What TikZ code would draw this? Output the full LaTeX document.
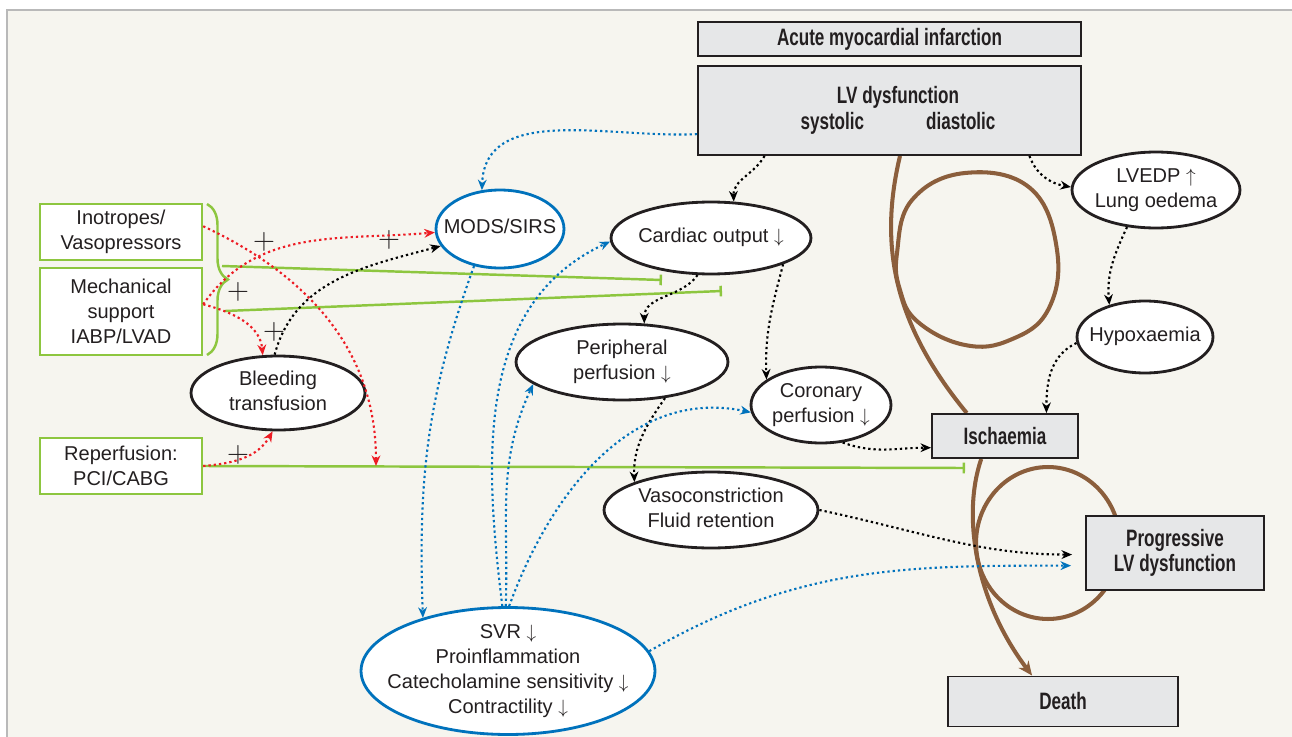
\documentclass[tikz,border=0pt]{standalone}
\usepackage{fontspec}
\setmainfont{Liberation Sans}
\newfontfamily\headfont[FakeStretch=0.72]{Liberation Sans}
\usetikzlibrary{arrows.meta,shapes.geometric,decorations.pathreplacing,backgrounds}
\definecolor{cream}{RGB}{246,245,239}
\definecolor{framegray}{RGB}{185,185,185}
\definecolor{boxgray}{RGB}{230,231,232}
\definecolor{ink}{RGB}{35,31,32}
\definecolor{rblue}{RGB}{0,114,188}
\definecolor{rred}{RGB}{237,28,36}
\definecolor{rgreen}{RGB}{141,198,63}
\definecolor{rbrown}{RGB}{139,94,60}
% text that takes no room, so the ellipse keeps its given size
\newcommand\zerobox[1]{\vbox to 0pt{\vss\hbox to 0pt{\hss\begin{tabular}{@{}c@{}}#1\end{tabular}\hss}\vss}}
\newcommand\arrdown{\ensuremath{\downarrow}}
\newcommand\arrup{\ensuremath{\uparrow}}

\begin{document}
\begin{tikzpicture}[x=0.02cm,y=-0.02cm,>={Stealth[length=6pt,width=5pt]},
	every node/.style={text=ink,font=\fontsize{11.4}{14.2}\selectfont,align=center},
	ell/.style={ellipse,draw=ink,fill=white,line width=1.6pt,inner sep=0pt},
	bell/.style={ell,draw=rblue},
	gbox/.style={rectangle,draw=rgreen,fill=white,line width=1.4pt,minimum width=3.24cm,inner sep=0pt},
	hbox/.style={rectangle,draw=ink,fill=boxgray,line width=1.1pt,inner sep=0pt,font=\fontsize{13.5}{14.6}\headfont\bfseries},
	plus/.style={font=\fontsize{18}{18}\selectfont,inner sep=0pt},
	dotarr/.style={->,line width=1.2pt,dash pattern=on 1.3pt off 1.7pt},
	inh/.style={-{Bar[width=6pt]},draw=rgreen,line width=1.4pt},
	loop/.style={draw=rbrown,line width=2.3pt}]

		\useasboundingbox (0,0) rectangle (1292,737);

		% boxes
		\node (ami) [hbox,minimum width=7.66cm,minimum height=0.68cm] at (889.5,39) {Acute myocardial infarction};
		\node (lv) [hbox,minimum width=7.66cm,minimum height=1.78cm,font=\fontsize{13.5}{15}\headfont\bfseries] at (889.5,110.5) {\hspace*{0.34cm}LV dysfunction\\\hspace*{0.34cm}systolic\hspace{1.24cm}diastolic};
		\node (isch) [hbox,minimum width=2.92cm,minimum height=0.88cm] at (1005,436) {Ischaemia};
		\node (pld) [hbox,minimum width=3.56cm,minimum height=1.48cm] at (1175,553) {Progressive\\LV dysfunction};
		\node (death) [hbox,minimum width=4.6cm,minimum height=1.0cm] at (1063,701.5) {Death};

		\node (ino) [gbox,minimum height=1.12cm] at (121,232) {Inotropes/\\Vasopressors};
		\node (mech) [gbox,minimum height=1.74cm] at (121,311.5) {Mechanical\\support\\IABP/LVAD};
		\node (rep) [gbox,minimum height=1.12cm] at (121,466) {Reperfusion:\\PCI/CABG};

		% ellipses
		\node (mods) [bell,minimum width=2.56cm,minimum height=1.56cm] at (500,229) {\zerobox{MODS/SIRS}};
		\node (svr) [bell,minimum width=5.88cm,minimum height=2.54cm] at (508,671) {\zerobox{SVR \arrdown\\Proinflammation\\Catecholamine sensitivity \arrdown\\Contractility \arrdown}};
		\node (co) [ell,minimum width=4.0cm,minimum height=1.44cm] at (711,238) {\zerobox{Cardiac output \arrdown}};
		\node (pp) [ell,minimum width=4.24cm,minimum height=1.52cm] at (622,362) {\zerobox{Peripheral\\perfusion \arrdown}};
		\node (cp) [ell,minimum width=2.8cm,minimum height=1.52cm] at (821,405) {\zerobox{Coronary\\perfusion \arrdown}};
		\node (vc) [ell,minimum width=4.28cm,minimum height=1.52cm] at (711,510) {\zerobox{Vasoconstriction\\Fluid retention}};
		\node (bl) [ell,minimum width=3.48cm,minimum height=1.48cm] at (278,393) {\zerobox{Bleeding\\transfusion}};
		\node (le) [ell,minimum width=3.36cm,minimum height=1.52cm] at (1156,190) {\zerobox{LVEDP \arrup\\Lung oedema}};
		\node (hy) [ell,minimum width=2.72cm,minimum height=1.44cm] at (1145,337) {\zerobox{Hypoxaemia}};

		\node (p1) [plus] at (264,242) {$+$};
		\node (p2) [plus] at (389,240) {$+$};
		\node (p3) [plus] at (238,292) {$+$};
		\node (p4) [plus] at (274,332) {$+$};
		\node (p5) [plus] at (238,455) {$+$};

		\coordinate (redend) at (376,466);
		\coordinate (g1s) at (222,266);
		\coordinate (g1e) at (662,280);
		\coordinate (g2s) at (225,311);
		\coordinate (g2e) at (722,291);
		\coordinate (g3e) at (965,468);

		% green
		\draw[rgreen,line width=1.4pt,decorate,decoration={brace,amplitude=0.42cm}] (207,204) -- (207,355);
		\draw[inh] (g1s) -- (g1e);
		\draw[inh] (g2s) -- (g2e);
		\draw[inh] (rep.east) -- (g3e);

		% red
		\draw[dotarr,rred] (ino.4) to[out=-25,in=90] (redend);
		\draw[dotarr,rred] (mech.5) to[out=55,in=185] (mods.183);
		\draw[dotarr,rred] (mech.5) to[out=-15,in=95] (bl.112);
		\draw[dotarr,rred] (rep.east) to[out=5,in=240] (bl.262);

		% black
		\draw[dotarr] (bl.95) to[out=75,in=195] (mods.196);
		\draw[dotarr] (lv.200) to[out=240,in=92] (co.58);
		\draw[dotarr] (lv.342) to[out=-70,in=170] (le.178);
		\draw[dotarr] (le.232) to[out=245,in=95] (hy.138);
		\draw[dotarr] (hy.185) to[out=205,in=90] (isch.29);
		\draw[dotarr] (co.250) to[out=235,in=90] (pp.60);
		\draw[dotarr] (co.-20) to[out=255,in=92] (cp.155);
		\draw[dotarr] (pp.-40) to[out=235,in=92] (vc.160);
		\draw[dotarr] (cp.-60) to[out=-20,in=180] (isch.189);
		\draw[dotarr,shorten >=0.26cm] (vc.0) to[out=-12,in=180] (pld.181);

		% blue
		\draw[dotarr,rblue] (lv.187) to[out=183,in=88] (mods.115);
		\draw[dotarr,rblue] (mods.235) to[out=250,in=92] (svr.148);
		\draw[dotarr,rblue] (svr.95) to[out=97,in=205] (co.182);
		\draw[dotarr,rblue] (svr.92) to[out=88,in=245] (pp.194);
		\draw[dotarr,rblue] (svr.89) to[out=70,in=168] (cp.186);
		\draw[dotarr,rblue,shorten >=0.28cm] (svr.8) to[out=30,in=180] (pld.188);

		\begin{pgfonlayer}{background}
			\fill[white] (0,0) rectangle (1292,737);
			\fill[cream] (7,10) rectangle (1292,737);
			\draw[framegray,line width=1.1pt] (7,737) -- (7,10) -- (1292,10);
			% the two vicious circles
			\draw[loop] (lv.-77) .. controls (880,240) and (890,320) .. (isch.149);
			\draw[loop] plot[smooth cycle,tension=0.7] coordinates {(897,253) (912,200) (965,173) (1030,188) (1057,250) (1048,310) (1010,340) (965,345) (918,322) (900,290)};
			\draw[loop] (1048,543) ellipse[x radius=1.44cm,y radius=1.52cm];
			\draw[loop,-{Stealth[length=8pt,width=7pt]}] (isch.224) .. controls (962,515) and (975,600) .. (death.140);
		\end{pgfonlayer}
	\end{tikzpicture}
\end{document}
